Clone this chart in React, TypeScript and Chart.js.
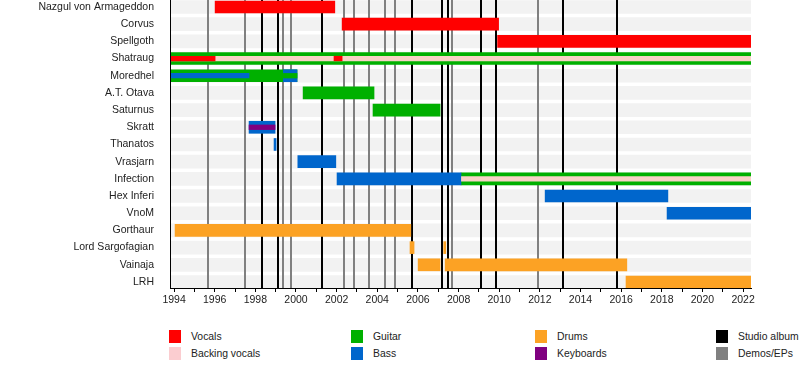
import React, { useEffect, useRef } from 'react';
import { Chart, registerables } from 'chart.js';

Chart.register(...registerables);

const members = [
  'Nazgul von Armageddon', 'Corvus', 'Spellgoth', 'Shatraug', 'Moredhel', 'A.T. Otava',
  'Saturnus', 'Skratt', 'Thanatos', 'Vrasjarn', 'Infection', 'Hex Inferi', 'VnoM',
  'Gorthaur', 'Lord Sargofagian', 'Vainaja', 'LRH',
];

const START = 1993.8;
const END = 2022.39;

const yearTicks = [1994, 1995, 1996, 1997, 1998, 1999, 2000, 2001, 2002, 2003, 2004, 2005, 2006, 2007,
  2008, 2009, 2010, 2011, 2012, 2013, 2014, 2015, 2016, 2017, 2018, 2019, 2020, 2021, 2022];

type Span = [string, number, number];

const vocals: Span[] = [
  ['Nazgul von Armageddon', 1996.02, 2001.91],
  ['Corvus', 2002.27, 2009.97],
  ['Spellgoth', 2009.92, END],
];
const vocalsThin: Span[] = [
  ['Shatraug', START, 1996.02],
  ['Shatraug', 2001.87, 2002.27],
];
const backingThin: Span[] = [
  ['Shatraug', START, END],
  ['Infection', 2008.14, END],
];
const guitar: Span[] = [
  ['Shatraug', START, END],
  ['Moredhel', START, 2000.05],
  ['A.T. Otava', 2000.35, 2003.84],
  ['Saturnus', 2003.79, 2007.09],
  ['Infection', 2008.12, END],
];
const guitarThin: Span[] = [
  ['Moredhel', 1999.38, 2000.05],
];
const bass: Span[] = [
  ['Moredhel', 1999.38, 2000.05],
  ['Skratt', 1997.69, 1998.97],
  ['Thanatos', 1998.92, 1999.02],
  ['Vrasjarn', 2000.09, 2001.96],
  ['Infection', 2002.02, 2008.12],
  ['Hex Inferi', 2012.26, 2018.3],
  ['VnoM', 2018.26, END],
];
const bassThin: Span[] = [
  ['Moredhel', START, 1997.69],
];
const keyboardsThin: Span[] = [
  ['Skratt', 1997.69, 1998.97],
];
const drums: Span[] = [
  ['Gorthaur', 1994.05, 2005.65],
  ['Lord Sargofagian', 2005.61, 2005.81],
  ['Lord Sargofagian', 2007.27, 2007.37],
  ['Vainaja', 2006.01, 2007.09],
  ['Vainaja', 2007.34, 2016.28],
  ['LRH', 2016.24, END],
];

const studioAlbums = [1998.32, 1999.13, 2001.27, 2005.73, 2007.17, 2007.5, 2009.08, 2009.86, 2013.16, 2015.79];
const demos = [1995.69, 1997.49, 1999.38, 1999.74, 2002.38, 2002.87, 2003.57, 2004.36, 2004.87, 2007.7, 2011.93];

const RED = '#ff0000';
const PINK = '#f8d2c6';
const PINK_LEGEND = '#fbcdd0';
const GREEN = '#00b000';
const BLUE = '#0066cc';
const ORANGE = '#fca224';
const PURPLE = '#800080';
const BLACK = '#000000';
const GRAY = '#808080';
const STRIPE = '#f2f2f2';

const legendItems = [
  { label: 'Vocals', color: RED, col: 0, row: 0 },
  { label: 'Backing vocals', color: PINK_LEGEND, col: 0, row: 1 },
  { label: 'Guitar', color: GREEN, col: 1, row: 0 },
  { label: 'Bass', color: BLUE, col: 1, row: 1 },
  { label: 'Drums', color: ORANGE, col: 2, row: 0 },
  { label: 'Keyboards', color: PURPLE, col: 2, row: 1 },
  { label: 'Studio album', color: BLACK, col: 3, row: 0 },
  { label: 'Demos/EPs', color: GRAY, col: 3, row: 1 },
];
const legendCols = [169, 351, 535, 716];
const legendRows = [330, 347];

const FONT = "'Liberation Sans', Arial, sans-serif";

export default function App() {
  const ref = useRef<HTMLCanvasElement>(null);

  useEffect(() => {
    if (!ref.current) return;
    const toBars = (list: Span[]) =>
      list.map(([name, from, to]) => ({ x: [from, to], y: members.indexOf(name) }));
    const mk = (list: Span[], color: string, t: number, order: number) => ({
      data: toBars(list),
      backgroundColor: color,
      maxBarThickness: t,
      barPercentage: 1,
      categoryPercentage: 1,
      grouped: false,
      order,
      borderWidth: 0,
    });
    const THICK = 12;
    const THIN = 4.6;
    const stripes: Span[] = members.map((m) => [m, START, END] as Span);

    const linesPlugin = {
      id: 'eventLines',
      afterDatasetDraw(chart: any, args: any) {
        if (args.index !== 0) return;
        const { ctx, chartArea } = chart;
        const xs = chart.scales.x;
        ctx.save();
        ctx.lineWidth = 2;
        const draw = (yrs: number[], color: string) => {
          ctx.strokeStyle = color;
          yrs.forEach((yr) => {
            const px = Math.round(xs.getPixelForValue(yr));
            ctx.beginPath();
            ctx.moveTo(px, chartArea.top);
            ctx.lineTo(px, chartArea.bottom);
            ctx.stroke();
          });
        };
        draw(demos, GRAY);
        draw(studioAlbums, BLACK);
        ctx.restore();
      },
    };

    const chart = new Chart(ref.current, {
      type: 'bar',
      data: {
        datasets: [
          mk(stripes, STRIPE, 13, 100),
          mk(guitar, GREEN, THICK, 90),
          mk(bass, BLUE, THICK, 80),
          mk(vocals, RED, THICK, 70),
          mk(drums, ORANGE, THICK, 60),
          mk(backingThin, PINK, THIN, 50),
          mk(vocalsThin, RED, THIN, 40),
          mk(guitarThin, GREEN, THIN, 30),
          mk(bassThin, BLUE, THIN, 20),
          mk(keyboardsThin, PURPLE, THIN, 10),
        ] as any,
      },
      options: {
        indexAxis: 'y',
        animation: false,
        responsive: false,
        maintainAspectRatio: false,
        layout: { padding: { left: 0, right: 49, top: 0, bottom: 0 } },
        plugins: { legend: { display: false }, tooltip: { enabled: false } },
        scales: {
          x: {
            type: 'linear',
            min: START,
            max: END,
            offset: false,
            afterBuildTicks: (scale: any) => {
              scale.ticks = yearTicks.map((v) => ({ value: v }));
            },
            afterFit: (scale: any) => {
              scale.height = 22;
              scale.paddingLeft = 0;
              scale.paddingRight = 0;
            },
            ticks: {
              autoSkip: false,
              maxRotation: 0,
              padding: 2,
              color: '#222',
              font: { family: FONT, size: 10.5 },
              callback: (v: any) => (Number(v) % 2 === 0 ? String(v) : ''),
            },
            grid: { drawOnChartArea: false, drawTicks: true, tickLength: 4, color: '#000', offset: false },
            border: { display: true, color: '#000', width: 1, z: 1 },
          },
          y: {
            type: 'linear',
            reverse: true,
            offset: false,
            min: -0.405,
            max: 16.35,
            afterBuildTicks: (scale: any) => {
              scale.ticks = members.map((_, i) => ({ value: i }));
            },
            afterFit: (scale: any) => {
              scale.width = 170;
              scale.paddingTop = 0;
              scale.paddingBottom = 0;
            },
            ticks: {
              autoSkip: false,
              padding: 8,
              color: '#222',
              font: { family: FONT, size: 10.5 },
              callback: (v: any) => members[Number(v)] ?? '',
            },
            grid: { display: false, offset: false },
            border: { display: true, color: '#000', width: 1, z: 1 },
          },
        },
      } as any,
      plugins: [linesPlugin],
    });
    return () => chart.destroy();
  }, []);

  return (
    <div style={{ position: 'fixed', left: 0, top: 0, width: 800, height: 368, background: '#fff', overflow: 'hidden' }}>
      <canvas ref={ref} width={800} height={310} style={{ position: 'absolute', left: 0, top: 0, width: 800, height: 310 }} />
      {legendItems.map((it) => (
        <React.Fragment key={it.label}>
          <div
            style={{
              position: 'absolute',
              left: legendCols[it.col],
              top: legendRows[it.row],
              width: 12,
              height: 13,
              background: it.color,
            }}
          />
          <div
            style={{
              position: 'absolute',
              left: legendCols[it.col] + 22,
              top: legendRows[it.row] - 1,
              height: 15,
              lineHeight: '15px',
              fontFamily: FONT,
              fontSize: 10.4,
              color: '#222',
              whiteSpace: 'nowrap',
            }}
          >
            {it.label}
          </div>
        </React.Fragment>
      ))}
    </div>
  );
}
